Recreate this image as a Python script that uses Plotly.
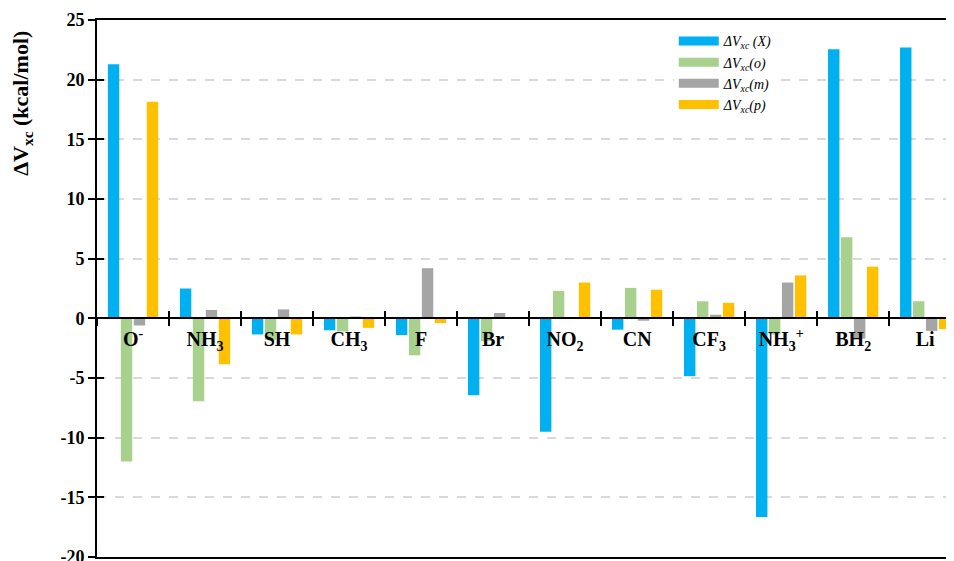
import plotly.graph_objects as go

categories = ["O<sup>-</sup>", "NH<sub>3</sub>", "SH", "CH<sub>3</sub>", "F", "Br",
              "NO<sub>2</sub>", "CN", "CF<sub>3</sub>", "NH<sub>3</sub><sup>+</sup>",
              "BH<sub>2</sub>", "Li"]
series_names = ["<i>ΔV<sub>xc</sub> (X)</i>", "<i>ΔV<sub>xc</sub>(o)</i>",
                "<i>ΔV<sub>xc</sub>(m)</i>", "<i>ΔV<sub>xc</sub>(p)</i>"]
dv_X = [21.3, 2.5, -1.35, -1.0, -1.4, -6.45, -9.5, -0.95, -4.85, -16.65, 22.55, 22.7]
dv_o = [-12.0, -6.95, -1.8, -1.1, -3.1, -1.9, 2.3, 2.55, 1.43, -1.35, 6.8, 1.43]
dv_m = [-0.6, 0.7, 0.75, 0.15, 4.2, 0.45, 0.0, -0.2, 0.3, 3.0, -1.7, -1.05]
dv_p = [18.15, -3.85, -1.35, -0.8, -0.4, 0.0, 3.0, 2.4, 1.3, 3.6, 4.33, -0.9]
y_tickvals = [-20, -15, -10, -5, 0, 5, 10, 15, 20, 25]
y_ticktext = ["-20", "-15", "-10", "-5", "0", "5", "10", "15", "20", "25"]
colors = ["#00B0F0", "#A9D18E", "#A5A5A5", "#FFC000"]

serif = "Liberation Serif"
fig = go.Figure()
for name, vals, c in zip(series_names, [dv_X, dv_o, dv_m, dv_p], colors):
    fig.add_trace(go.Bar(x=categories, y=vals, name=name, marker_color=c,
                         marker_line_width=0, showlegend=False))
# legend entries drawn as wide swatches
for name, c in zip(series_names, colors):
    fig.add_trace(go.Scatter(x=[None], y=[None], mode="lines", name=name,
                             line=dict(color=c, width=9)))
# helper empty traces so the overlay axes get drawn
fig.add_trace(go.Scatter(x=[], y=[], xaxis="x2", yaxis="y", showlegend=False))
fig.add_trace(go.Scatter(x=[], y=[], xaxis="x3", yaxis="y", showlegend=False))
fig.add_trace(go.Scatter(x=[], y=[], xaxis="x", yaxis="y2", showlegend=False))

yr = [-20, 25]
xr = [-0.5, 11.40]
zero_pos = (0 - yr[0]) / (yr[1] - yr[0])

# page body has an 8px margin; compensate so the plot sits where the reference does
fig.update_layout(
    width=946, height=553,
    margin=dict(l=89, r=0, t=12, b=4, autoexpand=False),
    plot_bgcolor="white", paper_bgcolor="white",
    barmode="group", bargap=0.28, bargroupgap=0.12,
    font=dict(family=serif, color="black"),
    xaxis=dict(type="category", categoryorder="array", categoryarray=categories,
               range=xr, showline=True, linecolor="black", linewidth=2,
               mirror=True, ticks="", showticklabels=False, showgrid=False,
               zeroline=False, automargin=False),
    xaxis2=dict(type="category", categoryorder="array", categoryarray=categories,
                range=xr, overlaying="x", anchor="free", position=zero_pos,
                showline=True, linecolor="black", linewidth=2, layer="above traces",
                tickson="boundaries", ticks="outside", ticklen=7, tickwidth=1.5,
                tickcolor="black", showgrid=False, zeroline=False, automargin=False,
                ticklabelstandoff=3,
                tickfont=dict(family=serif, size=20, color="black", weight="bold")),
    xaxis3=dict(type="category", categoryorder="array", categoryarray=categories,
                range=xr, overlaying="x", anchor="free", position=zero_pos,
                showline=False, layer="above traces", automargin=False,
                tickson="boundaries", ticks="inside", ticklen=7, tickwidth=1.5,
                tickcolor="black", showticklabels=False, showgrid=False,
                zeroline=False),
    yaxis=dict(range=yr, tickvals=y_tickvals, ticktext=y_ticktext,
               showline=True, linecolor="black", ticklabeloverflow="allow",
               linewidth=2, ticks="outside", ticklen=7, tickwidth=1.5,
               tickcolor="black", showgrid=True, gridcolor="#d9d9d9",
               griddash="dash", gridwidth=1.5, zeroline=False, automargin=False,
               tickfont=dict(family=serif, size=18, color="black", weight="bold")),
    yaxis2=dict(range=yr, tickvals=y_tickvals, overlaying="y", anchor="x", side="left",
                ticks="inside", ticklen=7, tickwidth=1.5, tickcolor="black",
                showticklabels=False, showgrid=False, zeroline=False,
                showline=False, automargin=False),
    legend=dict(x=0.673, y=0.99, xanchor="left", yanchor="top",
                bgcolor="rgba(255,255,255,1)",
                font=dict(family=serif, size=14, color="black"),
                tracegroupgap=0, itemwidth=40),
    showlegend=True,
)

fig.add_annotation(text="<b>ΔV<sub>xc</sub> (kcal/mol)</b>", xref="paper", yref="paper",
                   x=-0.087, y=0.845, xanchor="center", yanchor="middle",
                   textangle=-90, showarrow=False,
                   font=dict(family=serif, size=22, color="black"))

fig.write_html("out.html")
